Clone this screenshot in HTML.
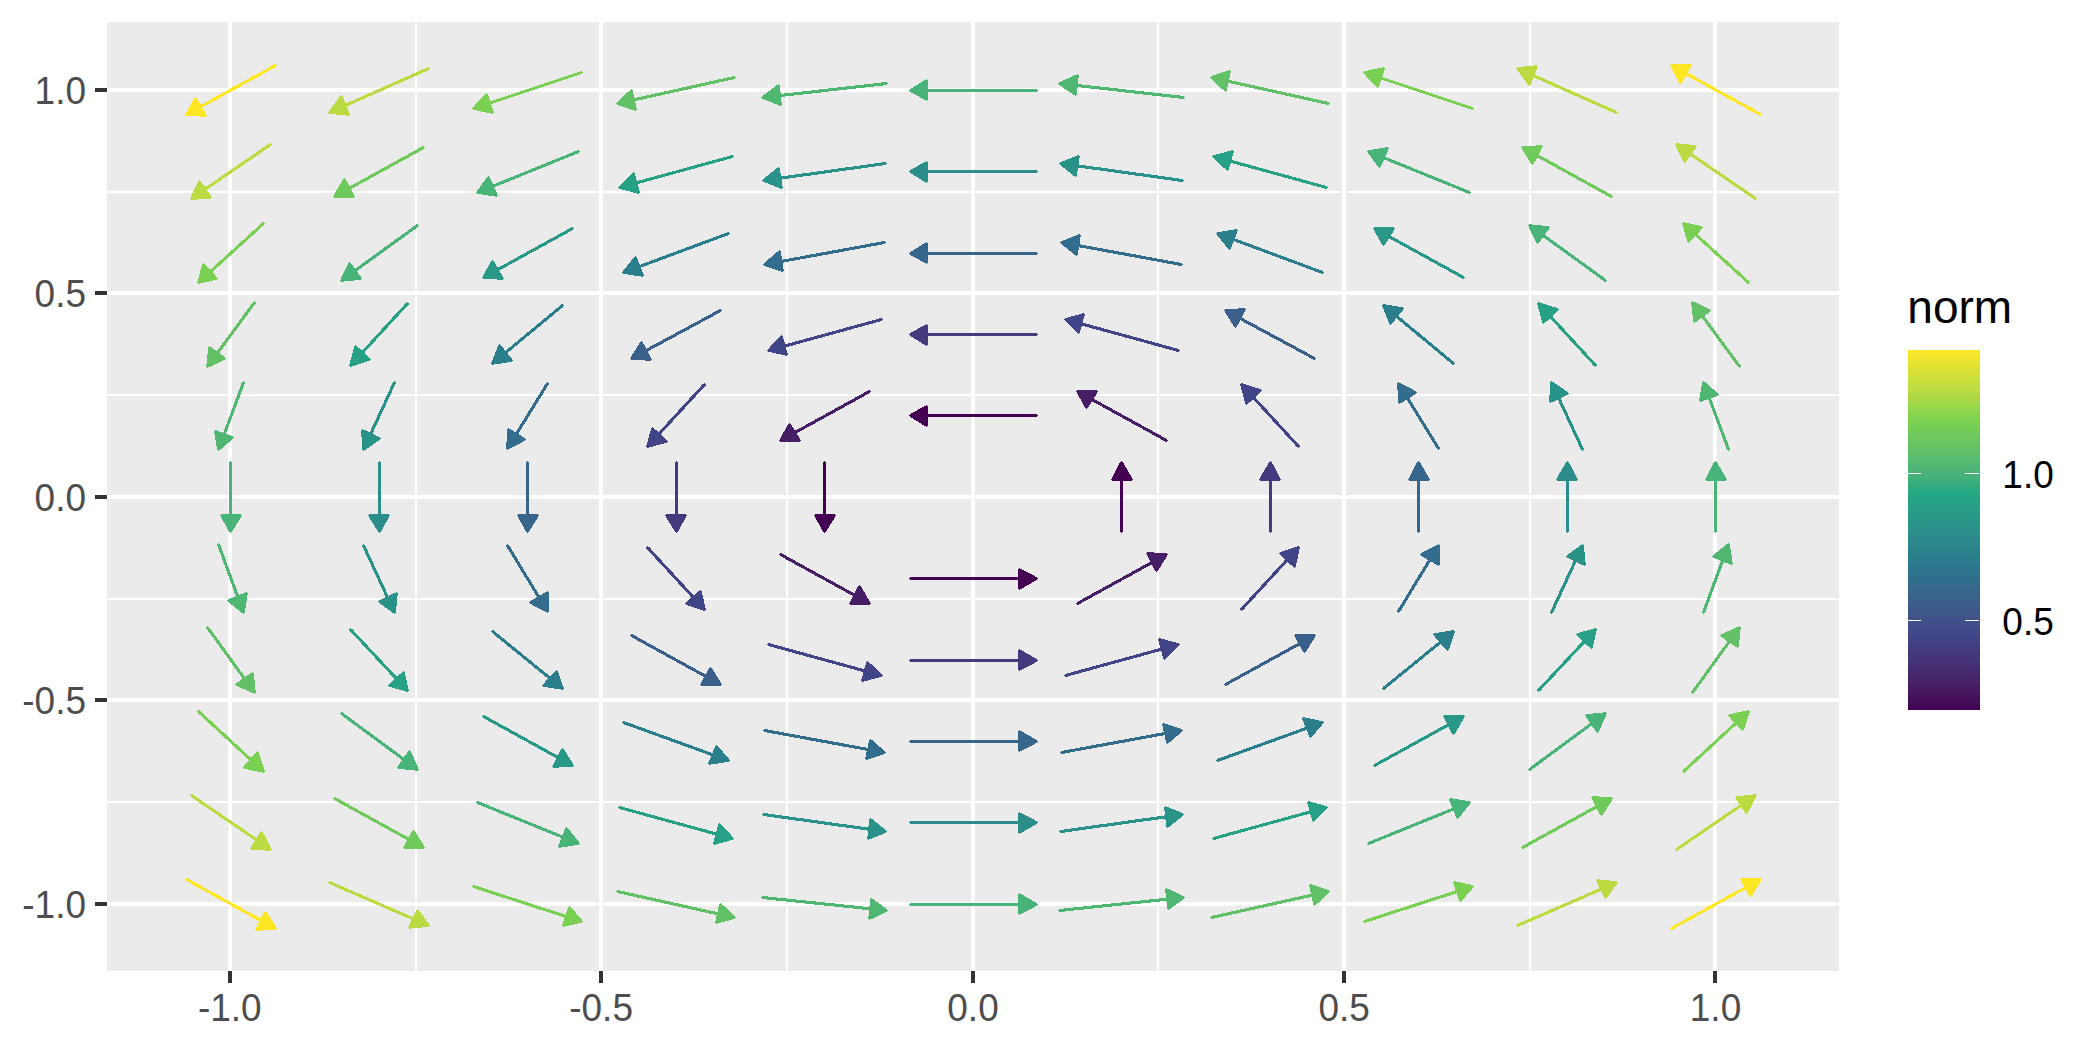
<!DOCTYPE html>
<html><head><meta charset="utf-8"><title>vector field</title>
<style>html,body{margin:0;padding:0;background:#fff}svg{display:block}text{font-family:"Liberation Sans",sans-serif}</style></head>
<body>
<svg width="2100" height="1050" viewBox="0 0 2100 1050">
<rect width="2100" height="1050" fill="#FFFFFF"/>
<rect x="107" y="22" width="1732" height="949" fill="#EBEBEB"/>
<g fill="#FFFFFF" shape-rendering="crispEdges">
<rect x="415" y="22" width="2" height="949"/>
<rect x="107" y="801" width="1732" height="2"/>
<rect x="786" y="22" width="2" height="949"/>
<rect x="107" y="598" width="1732" height="2"/>
<rect x="1157" y="22" width="2" height="949"/>
<rect x="107" y="394" width="1732" height="2"/>
<rect x="1529" y="22" width="2" height="949"/>
<rect x="107" y="191" width="1732" height="2"/>
<rect x="228" y="22" width="4" height="949"/>
<rect x="107" y="902" width="1732" height="4"/>
<rect x="599" y="22" width="4" height="949"/>
<rect x="107" y="698" width="1732" height="4"/>
<rect x="971" y="22" width="4" height="949"/>
<rect x="107" y="495" width="1732" height="4"/>
<rect x="1342" y="22" width="4" height="949"/>
<rect x="107" y="291" width="1732" height="4"/>
<rect x="1713" y="22" width="4" height="949"/>
<rect x="107" y="88" width="1732" height="4"/>
</g>
<g stroke-width="2.6" stroke-linecap="round" stroke-linejoin="round" shape-rendering="crispEdges">
<g stroke="#FDE725" fill="#FDE725"><path d="M186.5 879.5L275.5 928.5" stroke-width="3.1" stroke-linecap="butt"/><path d="M186.5 879.5L275.5 928.5M265.5 912.5L275.5 928.5L256.5 929.5Z"/></g>
<g stroke="#BADC42" fill="#BADC42"><path d="M329.5 882.5L428.5 925.5" stroke-width="3.1" stroke-linecap="butt"/><path d="M329.5 882.5L428.5 925.5M417.5 910.5L428.5 925.5L409.5 927.5Z"/></g>
<g stroke="#79D052" fill="#79D052"><path d="M473.5 886.5L581.5 921.5" stroke-width="3.1" stroke-linecap="butt"/><path d="M473.5 886.5L581.5 921.5M569.5 907.5L581.5 921.5L563.5 925.5Z"/></g>
<g stroke="#62C167" fill="#62C167"><path d="M617.5 891.5L734.5 917.5" stroke-width="3.1" stroke-linecap="butt"/><path d="M617.5 891.5L734.5 917.5M720.5 904.5L734.5 917.5L716.5 922.5Z"/></g>
<g stroke="#50B773" fill="#50B773"><path d="M762.5 897.5L886.5 910.5" stroke-width="3.1" stroke-linecap="butt"/><path d="M762.5 897.5L886.5 910.5M871.5 899.5L886.5 910.5L869.5 918.5Z"/></g>
<g stroke="#48B477" fill="#48B477"><path d="M910.5 904.5L1036.5 904.5" stroke-width="3.1" stroke-linecap="butt"/><path d="M910.5 904.5L1036.5 904.5M1019.5 894.5L1036.5 904.5L1019.5 913.5Z"/></g>
<g stroke="#50B773" fill="#50B773"><path d="M1059.5 910.5L1183.5 897.5" stroke-width="3.1" stroke-linecap="butt"/><path d="M1059.5 910.5L1183.5 897.5M1166.5 889.5L1183.5 897.5L1168.5 908.5Z"/></g>
<g stroke="#62C167" fill="#62C167"><path d="M1211.5 917.5L1328.5 891.5" stroke-width="3.1" stroke-linecap="butt"/><path d="M1211.5 917.5L1328.5 891.5M1310.5 885.5L1328.5 891.5L1314.5 904.5Z"/></g>
<g stroke="#79D052" fill="#79D052"><path d="M1364.5 921.5L1472.5 886.5" stroke-width="3.1" stroke-linecap="butt"/><path d="M1364.5 921.5L1472.5 886.5M1454.5 882.5L1472.5 886.5L1460.5 900.5Z"/></g>
<g stroke="#BADC42" fill="#BADC42"><path d="M1517.5 925.5L1616.5 882.5" stroke-width="3.1" stroke-linecap="butt"/><path d="M1517.5 925.5L1616.5 882.5M1597.5 880.5L1616.5 882.5L1605.5 897.5Z"/></g>
<g stroke="#FDE725" fill="#FDE725"><path d="M1671.5 928.5L1760.5 879.5" stroke-width="3.1" stroke-linecap="butt"/><path d="M1671.5 928.5L1760.5 879.5M1741.5 879.5L1760.5 879.5L1750.5 895.5Z"/></g>
<g stroke="#BADC42" fill="#BADC42"><path d="M191.5 795.5L270.5 849.5" stroke-width="3.1" stroke-linecap="butt"/><path d="M191.5 795.5L270.5 849.5M261.5 832.5L270.5 849.5L251.5 848.5Z"/></g>
<g stroke="#70CA5B" fill="#70CA5B"><path d="M334.5 798.5L423.5 847.5" stroke-width="3.1" stroke-linecap="butt"/><path d="M334.5 798.5L423.5 847.5M413.5 831.5L423.5 847.5L404.5 847.5Z"/></g>
<g stroke="#48B477" fill="#48B477"><path d="M477.5 802.5L578.5 843.5" stroke-width="3.1" stroke-linecap="butt"/><path d="M477.5 802.5L578.5 843.5M566.5 828.5L578.5 843.5L559.5 846.5Z"/></g>
<g stroke="#26A186" fill="#26A186"><path d="M619.5 807.5L732.5 838.5" stroke-width="3.1" stroke-linecap="butt"/><path d="M619.5 807.5L732.5 838.5M719.5 824.5L732.5 838.5L714.5 843.5Z"/></g>
<g stroke="#2A9389" fill="#2A9389"><path d="M763.5 814.5L885.5 831.5" stroke-width="3.1" stroke-linecap="butt"/><path d="M763.5 814.5L885.5 831.5M870.5 819.5L885.5 831.5L868.5 838.5Z"/></g>
<g stroke="#2B8E8A" fill="#2B8E8A"><path d="M910.5 822.5L1036.5 822.5" stroke-width="3.1" stroke-linecap="butt"/><path d="M910.5 822.5L1036.5 822.5M1019.5 813.5L1036.5 822.5L1019.5 832.5Z"/></g>
<g stroke="#2A9389" fill="#2A9389"><path d="M1060.5 831.5L1182.5 814.5" stroke-width="3.1" stroke-linecap="butt"/><path d="M1060.5 831.5L1182.5 814.5M1165.5 807.5L1182.5 814.5L1167.5 826.5Z"/></g>
<g stroke="#26A186" fill="#26A186"><path d="M1213.5 838.5L1326.5 807.5" stroke-width="3.1" stroke-linecap="butt"/><path d="M1213.5 838.5L1326.5 807.5M1308.5 802.5L1326.5 807.5L1313.5 820.5Z"/></g>
<g stroke="#48B477" fill="#48B477"><path d="M1368.5 843.5L1469.5 802.5" stroke-width="3.1" stroke-linecap="butt"/><path d="M1368.5 843.5L1469.5 802.5M1450.5 799.5L1469.5 802.5L1457.5 817.5Z"/></g>
<g stroke="#70CA5B" fill="#70CA5B"><path d="M1522.5 847.5L1611.5 798.5" stroke-width="3.1" stroke-linecap="butt"/><path d="M1522.5 847.5L1611.5 798.5M1592.5 797.5L1611.5 798.5L1601.5 814.5Z"/></g>
<g stroke="#BADC42" fill="#BADC42"><path d="M1676.5 849.5L1755.5 795.5" stroke-width="3.1" stroke-linecap="butt"/><path d="M1676.5 849.5L1755.5 795.5M1736.5 797.5L1755.5 795.5L1746.5 812.5Z"/></g>
<g stroke="#79D052" fill="#79D052"><path d="M198.5 711.5L263.5 771.5" stroke-width="3.1" stroke-linecap="butt"/><path d="M198.5 711.5L263.5 771.5M257.5 752.5L263.5 771.5L244.5 767.5Z"/></g>
<g stroke="#48B477" fill="#48B477"><path d="M341.5 713.5L417.5 769.5" stroke-width="3.1" stroke-linecap="butt"/><path d="M341.5 713.5L417.5 769.5M409.5 751.5L417.5 769.5L398.5 767.5Z"/></g>
<g stroke="#299888" fill="#299888"><path d="M483.5 716.5L572.5 765.5" stroke-width="3.1" stroke-linecap="butt"/><path d="M483.5 716.5L572.5 765.5M562.5 749.5L572.5 765.5L553.5 766.5Z"/></g>
<g stroke="#2B7F8D" fill="#2B7F8D"><path d="M623.5 722.5L728.5 760.5" stroke-width="3.1" stroke-linecap="butt"/><path d="M623.5 722.5L728.5 760.5M716.5 746.5L728.5 760.5L709.5 763.5Z"/></g>
<g stroke="#336D8D" fill="#336D8D"><path d="M764.5 730.5L884.5 752.5" stroke-width="3.1" stroke-linecap="butt"/><path d="M764.5 730.5L884.5 752.5M870.5 740.5L884.5 752.5L866.5 758.5Z"/></g>
<g stroke="#37668C" fill="#37668C"><path d="M910.5 741.5L1036.5 741.5" stroke-width="3.1" stroke-linecap="butt"/><path d="M910.5 741.5L1036.5 741.5M1019.5 731.5L1036.5 741.5L1019.5 750.5Z"/></g>
<g stroke="#336D8D" fill="#336D8D"><path d="M1061.5 752.5L1181.5 730.5" stroke-width="3.1" stroke-linecap="butt"/><path d="M1061.5 752.5L1181.5 730.5M1163.5 724.5L1181.5 730.5L1167.5 742.5Z"/></g>
<g stroke="#2B7F8D" fill="#2B7F8D"><path d="M1217.5 760.5L1322.5 722.5" stroke-width="3.1" stroke-linecap="butt"/><path d="M1217.5 760.5L1322.5 722.5M1303.5 718.5L1322.5 722.5L1310.5 736.5Z"/></g>
<g stroke="#299888" fill="#299888"><path d="M1374.5 765.5L1463.5 716.5" stroke-width="3.1" stroke-linecap="butt"/><path d="M1374.5 765.5L1463.5 716.5M1444.5 716.5L1463.5 716.5L1453.5 733.5Z"/></g>
<g stroke="#48B477" fill="#48B477"><path d="M1529.5 769.5L1605.5 713.5" stroke-width="3.1" stroke-linecap="butt"/><path d="M1529.5 769.5L1605.5 713.5M1586.5 715.5L1605.5 713.5L1597.5 731.5Z"/></g>
<g stroke="#79D052" fill="#79D052"><path d="M1683.5 771.5L1748.5 711.5" stroke-width="3.1" stroke-linecap="butt"/><path d="M1683.5 771.5L1748.5 711.5M1729.5 715.5L1748.5 711.5L1742.5 729.5Z"/></g>
<g stroke="#62C167" fill="#62C167"><path d="M207.5 627.5L254.5 692.5" stroke-width="3.1" stroke-linecap="butt"/><path d="M207.5 627.5L254.5 692.5M252.5 673.5L254.5 692.5L236.5 684.5Z"/></g>
<g stroke="#26A186" fill="#26A186"><path d="M350.5 629.5L407.5 690.5" stroke-width="3.1" stroke-linecap="butt"/><path d="M350.5 629.5L407.5 690.5M403.5 672.5L407.5 690.5L389.5 685.5Z"/></g>
<g stroke="#2B7F8D" fill="#2B7F8D"><path d="M492.5 631.5L562.5 688.5" stroke-width="3.1" stroke-linecap="butt"/><path d="M492.5 631.5L562.5 688.5M556.5 671.5L562.5 688.5L543.5 685.5Z"/></g>
<g stroke="#3B5F8B" fill="#3B5F8B"><path d="M631.5 635.5L720.5 684.5" stroke-width="3.1" stroke-linecap="butt"/><path d="M631.5 635.5L720.5 684.5M710.5 668.5L720.5 684.5L701.5 684.5Z"/></g>
<g stroke="#414587" fill="#414587"><path d="M768.5 644.5L881.5 675.5" stroke-width="3.1" stroke-linecap="butt"/><path d="M768.5 644.5L881.5 675.5M867.5 662.5L881.5 675.5L862.5 680.5Z"/></g>
<g stroke="#443A7E" fill="#443A7E"><path d="M910.5 660.5L1036.5 660.5" stroke-width="3.1" stroke-linecap="butt"/><path d="M910.5 660.5L1036.5 660.5M1019.5 650.5L1036.5 660.5L1019.5 669.5Z"/></g>
<g stroke="#414587" fill="#414587"><path d="M1065.5 675.5L1178.5 644.5" stroke-width="3.1" stroke-linecap="butt"/><path d="M1065.5 675.5L1178.5 644.5M1159.5 639.5L1178.5 644.5L1164.5 658.5Z"/></g>
<g stroke="#3B5F8B" fill="#3B5F8B"><path d="M1225.5 684.5L1314.5 635.5" stroke-width="3.1" stroke-linecap="butt"/><path d="M1225.5 684.5L1314.5 635.5M1295.5 635.5L1314.5 635.5L1304.5 651.5Z"/></g>
<g stroke="#2B7F8D" fill="#2B7F8D"><path d="M1383.5 688.5L1453.5 631.5" stroke-width="3.1" stroke-linecap="butt"/><path d="M1383.5 688.5L1453.5 631.5M1434.5 634.5L1453.5 631.5L1447.5 649.5Z"/></g>
<g stroke="#26A186" fill="#26A186"><path d="M1538.5 690.5L1595.5 629.5" stroke-width="3.1" stroke-linecap="butt"/><path d="M1538.5 690.5L1595.5 629.5M1577.5 634.5L1595.5 629.5L1591.5 647.5Z"/></g>
<g stroke="#62C167" fill="#62C167"><path d="M1692.5 692.5L1739.5 627.5" stroke-width="3.1" stroke-linecap="butt"/><path d="M1692.5 692.5L1739.5 627.5M1721.5 635.5L1739.5 627.5L1737.5 646.5Z"/></g>
<g stroke="#50B773" fill="#50B773"><path d="M218.5 544.5L243.5 612.5" stroke-width="3.1" stroke-linecap="butt"/><path d="M218.5 544.5L243.5 612.5M246.5 593.5L243.5 612.5L228.5 600.5Z"/></g>
<g stroke="#2A9389" fill="#2A9389"><path d="M363.5 545.5L394.5 612.5" stroke-width="3.1" stroke-linecap="butt"/><path d="M363.5 545.5L394.5 612.5M396.5 593.5L394.5 612.5L379.5 601.5Z"/></g>
<g stroke="#336D8D" fill="#336D8D"><path d="M507.5 545.5L547.5 611.5" stroke-width="3.1" stroke-linecap="butt"/><path d="M507.5 545.5L547.5 611.5M547.5 592.5L547.5 611.5L530.5 602.5Z"/></g>
<g stroke="#414587" fill="#414587"><path d="M647.5 547.5L704.5 609.5" stroke-width="3.1" stroke-linecap="butt"/><path d="M647.5 547.5L704.5 609.5M700.5 591.5L704.5 609.5L686.5 603.5Z"/></g>
<g stroke="#461E65" fill="#461E65"><path d="M780.5 554.5L869.5 603.5" stroke-width="3.1" stroke-linecap="butt"/><path d="M780.5 554.5L869.5 603.5M859.5 586.5L869.5 603.5L850.5 603.5Z"/></g>
<g stroke="#440154" fill="#440154"><path d="M910.5 578.5L1036.5 578.5" stroke-width="3.1" stroke-linecap="butt"/><path d="M910.5 578.5L1036.5 578.5M1019.5 569.5L1036.5 578.5L1019.5 588.5Z"/></g>
<g stroke="#461E65" fill="#461E65"><path d="M1077.5 603.5L1166.5 554.5" stroke-width="3.1" stroke-linecap="butt"/><path d="M1077.5 603.5L1166.5 554.5M1147.5 553.5L1166.5 554.5L1156.5 570.5Z"/></g>
<g stroke="#414587" fill="#414587"><path d="M1241.5 609.5L1298.5 547.5" stroke-width="3.1" stroke-linecap="butt"/><path d="M1241.5 609.5L1298.5 547.5M1280.5 553.5L1298.5 547.5L1294.5 566.5Z"/></g>
<g stroke="#336D8D" fill="#336D8D"><path d="M1398.5 611.5L1438.5 545.5" stroke-width="3.1" stroke-linecap="butt"/><path d="M1398.5 611.5L1438.5 545.5M1421.5 554.5L1438.5 545.5L1438.5 564.5Z"/></g>
<g stroke="#2A9389" fill="#2A9389"><path d="M1551.5 612.5L1582.5 545.5" stroke-width="3.1" stroke-linecap="butt"/><path d="M1551.5 612.5L1582.5 545.5M1567.5 556.5L1582.5 545.5L1584.5 564.5Z"/></g>
<g stroke="#50B773" fill="#50B773"><path d="M1703.5 612.5L1728.5 544.5" stroke-width="3.1" stroke-linecap="butt"/><path d="M1703.5 612.5L1728.5 544.5M1713.5 556.5L1728.5 544.5L1731.5 563.5Z"/></g>
<g stroke="#48B477" fill="#48B477"><path d="M230.5 462.5L230.5 531.5" stroke-width="3.1" stroke-linecap="butt"/><path d="M230.5 462.5L230.5 531.5M240.5 515.5L230.5 531.5L221.5 515.5Z"/></g>
<g stroke="#2B8E8A" fill="#2B8E8A"><path d="M379.5 462.5L379.5 531.5" stroke-width="3.1" stroke-linecap="butt"/><path d="M379.5 462.5L379.5 531.5M388.5 515.5L379.5 531.5L369.5 515.5Z"/></g>
<g stroke="#37668C" fill="#37668C"><path d="M527.5 462.5L527.5 531.5" stroke-width="3.1" stroke-linecap="butt"/><path d="M527.5 462.5L527.5 531.5M537.5 515.5L527.5 531.5L518.5 515.5Z"/></g>
<g stroke="#443A7E" fill="#443A7E"><path d="M676.5 462.5L676.5 531.5" stroke-width="3.1" stroke-linecap="butt"/><path d="M676.5 462.5L676.5 531.5M685.5 515.5L676.5 531.5L666.5 515.5Z"/></g>
<g stroke="#440154" fill="#440154"><path d="M824.5 462.5L824.5 531.5" stroke-width="3.1" stroke-linecap="butt"/><path d="M824.5 462.5L824.5 531.5M834.5 515.5L824.5 531.5L815.5 515.5Z"/></g>
<g stroke="#440154" fill="#440154"><path d="M1121.5 531.5L1121.5 462.5" stroke-width="3.1" stroke-linecap="butt"/><path d="M1121.5 531.5L1121.5 462.5M1112.5 479.5L1121.5 462.5L1131.5 479.5Z"/></g>
<g stroke="#443A7E" fill="#443A7E"><path d="M1270.5 531.5L1270.5 462.5" stroke-width="3.1" stroke-linecap="butt"/><path d="M1270.5 531.5L1270.5 462.5M1260.5 479.5L1270.5 462.5L1279.5 479.5Z"/></g>
<g stroke="#37668C" fill="#37668C"><path d="M1418.5 531.5L1418.5 462.5" stroke-width="3.1" stroke-linecap="butt"/><path d="M1418.5 531.5L1418.5 462.5M1409.5 479.5L1418.5 462.5L1428.5 479.5Z"/></g>
<g stroke="#2B8E8A" fill="#2B8E8A"><path d="M1567.5 531.5L1567.5 462.5" stroke-width="3.1" stroke-linecap="butt"/><path d="M1567.5 531.5L1567.5 462.5M1557.5 479.5L1567.5 462.5L1576.5 479.5Z"/></g>
<g stroke="#48B477" fill="#48B477"><path d="M1715.5 531.5L1715.5 462.5" stroke-width="3.1" stroke-linecap="butt"/><path d="M1715.5 531.5L1715.5 462.5M1706.5 479.5L1715.5 462.5L1725.5 479.5Z"/></g>
<g stroke="#50B773" fill="#50B773"><path d="M243.5 382.5L218.5 449.5" stroke-width="3.1" stroke-linecap="butt"/><path d="M243.5 382.5L218.5 449.5M232.5 437.5L218.5 449.5L215.5 431.5Z"/></g>
<g stroke="#2A9389" fill="#2A9389"><path d="M394.5 382.5L363.5 449.5" stroke-width="3.1" stroke-linecap="butt"/><path d="M394.5 382.5L363.5 449.5M379.5 438.5L363.5 449.5L362.5 430.5Z"/></g>
<g stroke="#336D8D" fill="#336D8D"><path d="M547.5 383.5L507.5 448.5" stroke-width="3.1" stroke-linecap="butt"/><path d="M547.5 383.5L507.5 448.5M524.5 439.5L507.5 448.5L508.5 429.5Z"/></g>
<g stroke="#414587" fill="#414587"><path d="M704.5 384.5L647.5 446.5" stroke-width="3.1" stroke-linecap="butt"/><path d="M704.5 384.5L647.5 446.5M666.5 441.5L647.5 446.5L652.5 428.5Z"/></g>
<g stroke="#461E65" fill="#461E65"><path d="M869.5 391.5L780.5 440.5" stroke-width="3.1" stroke-linecap="butt"/><path d="M869.5 391.5L780.5 440.5M799.5 440.5L780.5 440.5L789.5 424.5Z"/></g>
<g stroke="#440154" fill="#440154"><path d="M1036.5 415.5L910.5 415.5" stroke-width="3.1" stroke-linecap="butt"/><path d="M1036.5 415.5L910.5 415.5M926.5 425.5L910.5 415.5L926.5 406.5Z"/></g>
<g stroke="#461E65" fill="#461E65"><path d="M1166.5 440.5L1077.5 391.5" stroke-width="3.1" stroke-linecap="butt"/><path d="M1166.5 440.5L1077.5 391.5M1086.5 407.5L1077.5 391.5L1096.5 391.5Z"/></g>
<g stroke="#414587" fill="#414587"><path d="M1298.5 446.5L1241.5 384.5" stroke-width="3.1" stroke-linecap="butt"/><path d="M1298.5 446.5L1241.5 384.5M1246.5 403.5L1241.5 384.5L1260.5 390.5Z"/></g>
<g stroke="#336D8D" fill="#336D8D"><path d="M1438.5 448.5L1398.5 383.5" stroke-width="3.1" stroke-linecap="butt"/><path d="M1438.5 448.5L1398.5 383.5M1399.5 402.5L1398.5 383.5L1415.5 392.5Z"/></g>
<g stroke="#2A9389" fill="#2A9389"><path d="M1582.5 449.5L1551.5 382.5" stroke-width="3.1" stroke-linecap="butt"/><path d="M1582.5 449.5L1551.5 382.5M1550.5 401.5L1551.5 382.5L1567.5 393.5Z"/></g>
<g stroke="#50B773" fill="#50B773"><path d="M1728.5 449.5L1703.5 382.5" stroke-width="3.1" stroke-linecap="butt"/><path d="M1728.5 449.5L1703.5 382.5M1700.5 400.5L1703.5 382.5L1717.5 394.5Z"/></g>
<g stroke="#62C167" fill="#62C167"><path d="M254.5 302.5L207.5 366.5" stroke-width="3.1" stroke-linecap="butt"/><path d="M254.5 302.5L207.5 366.5M224.5 358.5L207.5 366.5L209.5 347.5Z"/></g>
<g stroke="#26A186" fill="#26A186"><path d="M407.5 303.5L350.5 365.5" stroke-width="3.1" stroke-linecap="butt"/><path d="M407.5 303.5L350.5 365.5M369.5 359.5L350.5 365.5L355.5 346.5Z"/></g>
<g stroke="#2B7F8D" fill="#2B7F8D"><path d="M562.5 305.5L492.5 363.5" stroke-width="3.1" stroke-linecap="butt"/><path d="M562.5 305.5L492.5 363.5M511.5 360.5L492.5 363.5L499.5 345.5Z"/></g>
<g stroke="#3B5F8B" fill="#3B5F8B"><path d="M720.5 310.5L631.5 358.5" stroke-width="3.1" stroke-linecap="butt"/><path d="M720.5 310.5L631.5 358.5M650.5 359.5L631.5 358.5L641.5 342.5Z"/></g>
<g stroke="#414587" fill="#414587"><path d="M881.5 319.5L768.5 350.5" stroke-width="3.1" stroke-linecap="butt"/><path d="M881.5 319.5L768.5 350.5M786.5 354.5L768.5 350.5L781.5 336.5Z"/></g>
<g stroke="#443A7E" fill="#443A7E"><path d="M1036.5 334.5L910.5 334.5" stroke-width="3.1" stroke-linecap="butt"/><path d="M1036.5 334.5L910.5 334.5M926.5 344.5L910.5 334.5L926.5 325.5Z"/></g>
<g stroke="#414587" fill="#414587"><path d="M1178.5 350.5L1065.5 319.5" stroke-width="3.1" stroke-linecap="butt"/><path d="M1178.5 350.5L1065.5 319.5M1078.5 332.5L1065.5 319.5L1083.5 314.5Z"/></g>
<g stroke="#3B5F8B" fill="#3B5F8B"><path d="M1314.5 358.5L1225.5 310.5" stroke-width="3.1" stroke-linecap="butt"/><path d="M1314.5 358.5L1225.5 310.5M1235.5 326.5L1225.5 310.5L1244.5 309.5Z"/></g>
<g stroke="#2B7F8D" fill="#2B7F8D"><path d="M1453.5 363.5L1383.5 305.5" stroke-width="3.1" stroke-linecap="butt"/><path d="M1453.5 363.5L1383.5 305.5M1390.5 323.5L1383.5 305.5L1402.5 308.5Z"/></g>
<g stroke="#26A186" fill="#26A186"><path d="M1595.5 365.5L1538.5 303.5" stroke-width="3.1" stroke-linecap="butt"/><path d="M1595.5 365.5L1538.5 303.5M1543.5 322.5L1538.5 303.5L1557.5 309.5Z"/></g>
<g stroke="#62C167" fill="#62C167"><path d="M1739.5 366.5L1692.5 302.5" stroke-width="3.1" stroke-linecap="butt"/><path d="M1739.5 366.5L1692.5 302.5M1694.5 321.5L1692.5 302.5L1709.5 310.5Z"/></g>
<g stroke="#79D052" fill="#79D052"><path d="M263.5 223.5L198.5 282.5" stroke-width="3.1" stroke-linecap="butt"/><path d="M263.5 223.5L198.5 282.5M216.5 278.5L198.5 282.5L203.5 264.5Z"/></g>
<g stroke="#48B477" fill="#48B477"><path d="M417.5 225.5L341.5 280.5" stroke-width="3.1" stroke-linecap="butt"/><path d="M417.5 225.5L341.5 280.5M360.5 278.5L341.5 280.5L349.5 263.5Z"/></g>
<g stroke="#299888" fill="#299888"><path d="M572.5 228.5L483.5 277.5" stroke-width="3.1" stroke-linecap="butt"/><path d="M572.5 228.5L483.5 277.5M502.5 278.5L483.5 277.5L492.5 261.5Z"/></g>
<g stroke="#2B7F8D" fill="#2B7F8D"><path d="M728.5 233.5L623.5 272.5" stroke-width="3.1" stroke-linecap="butt"/><path d="M728.5 233.5L623.5 272.5M642.5 275.5L623.5 272.5L635.5 257.5Z"/></g>
<g stroke="#336D8D" fill="#336D8D"><path d="M884.5 242.5L764.5 264.5" stroke-width="3.1" stroke-linecap="butt"/><path d="M884.5 242.5L764.5 264.5M782.5 270.5L764.5 264.5L779.5 251.5Z"/></g>
<g stroke="#37668C" fill="#37668C"><path d="M1036.5 253.5L910.5 253.5" stroke-width="3.1" stroke-linecap="butt"/><path d="M1036.5 253.5L910.5 253.5M926.5 262.5L910.5 253.5L926.5 243.5Z"/></g>
<g stroke="#336D8D" fill="#336D8D"><path d="M1181.5 264.5L1061.5 242.5" stroke-width="3.1" stroke-linecap="butt"/><path d="M1181.5 264.5L1061.5 242.5M1076.5 254.5L1061.5 242.5L1079.5 235.5Z"/></g>
<g stroke="#2B7F8D" fill="#2B7F8D"><path d="M1322.5 272.5L1217.5 233.5" stroke-width="3.1" stroke-linecap="butt"/><path d="M1322.5 272.5L1217.5 233.5M1229.5 248.5L1217.5 233.5L1236.5 230.5Z"/></g>
<g stroke="#299888" fill="#299888"><path d="M1463.5 277.5L1374.5 228.5" stroke-width="3.1" stroke-linecap="butt"/><path d="M1463.5 277.5L1374.5 228.5M1383.5 244.5L1374.5 228.5L1393.5 228.5Z"/></g>
<g stroke="#48B477" fill="#48B477"><path d="M1605.5 280.5L1529.5 225.5" stroke-width="3.1" stroke-linecap="butt"/><path d="M1605.5 280.5L1529.5 225.5M1537.5 242.5L1529.5 225.5L1548.5 227.5Z"/></g>
<g stroke="#79D052" fill="#79D052"><path d="M1748.5 282.5L1683.5 223.5" stroke-width="3.1" stroke-linecap="butt"/><path d="M1748.5 282.5L1683.5 223.5M1688.5 241.5L1683.5 223.5L1701.5 227.5Z"/></g>
<g stroke="#BADC42" fill="#BADC42"><path d="M270.5 144.5L191.5 198.5" stroke-width="3.1" stroke-linecap="butt"/><path d="M270.5 144.5L191.5 198.5M210.5 197.5L191.5 198.5L199.5 181.5Z"/></g>
<g stroke="#70CA5B" fill="#70CA5B"><path d="M423.5 147.5L334.5 196.5" stroke-width="3.1" stroke-linecap="butt"/><path d="M423.5 147.5L334.5 196.5M353.5 196.5L334.5 196.5L344.5 179.5Z"/></g>
<g stroke="#48B477" fill="#48B477"><path d="M578.5 151.5L477.5 192.5" stroke-width="3.1" stroke-linecap="butt"/><path d="M578.5 151.5L477.5 192.5M496.5 195.5L477.5 192.5L488.5 177.5Z"/></g>
<g stroke="#26A186" fill="#26A186"><path d="M732.5 156.5L619.5 187.5" stroke-width="3.1" stroke-linecap="butt"/><path d="M732.5 156.5L619.5 187.5M638.5 192.5L619.5 187.5L633.5 173.5Z"/></g>
<g stroke="#2A9389" fill="#2A9389"><path d="M885.5 163.5L763.5 180.5" stroke-width="3.1" stroke-linecap="butt"/><path d="M885.5 163.5L763.5 180.5M781.5 187.5L763.5 180.5L778.5 168.5Z"/></g>
<g stroke="#2B8E8A" fill="#2B8E8A"><path d="M1036.5 171.5L910.5 171.5" stroke-width="3.1" stroke-linecap="butt"/><path d="M1036.5 171.5L910.5 171.5M926.5 181.5L910.5 171.5L926.5 162.5Z"/></g>
<g stroke="#2A9389" fill="#2A9389"><path d="M1182.5 180.5L1060.5 163.5" stroke-width="3.1" stroke-linecap="butt"/><path d="M1182.5 180.5L1060.5 163.5M1075.5 175.5L1060.5 163.5L1078.5 156.5Z"/></g>
<g stroke="#26A186" fill="#26A186"><path d="M1326.5 187.5L1213.5 156.5" stroke-width="3.1" stroke-linecap="butt"/><path d="M1326.5 187.5L1213.5 156.5M1227.5 169.5L1213.5 156.5L1232.5 151.5Z"/></g>
<g stroke="#48B477" fill="#48B477"><path d="M1469.5 192.5L1368.5 151.5" stroke-width="3.1" stroke-linecap="butt"/><path d="M1469.5 192.5L1368.5 151.5M1379.5 166.5L1368.5 151.5L1387.5 148.5Z"/></g>
<g stroke="#70CA5B" fill="#70CA5B"><path d="M1611.5 196.5L1522.5 147.5" stroke-width="3.1" stroke-linecap="butt"/><path d="M1611.5 196.5L1522.5 147.5M1532.5 163.5L1522.5 147.5L1541.5 146.5Z"/></g>
<g stroke="#BADC42" fill="#BADC42"><path d="M1755.5 198.5L1676.5 144.5" stroke-width="3.1" stroke-linecap="butt"/><path d="M1755.5 198.5L1676.5 144.5M1684.5 161.5L1676.5 144.5L1695.5 146.5Z"/></g>
<g stroke="#FDE725" fill="#FDE725"><path d="M275.5 65.5L186.5 114.5" stroke-width="3.1" stroke-linecap="butt"/><path d="M275.5 65.5L186.5 114.5M205.5 115.5L186.5 114.5L195.5 98.5Z"/></g>
<g stroke="#BADC42" fill="#BADC42"><path d="M428.5 68.5L329.5 112.5" stroke-width="3.1" stroke-linecap="butt"/><path d="M428.5 68.5L329.5 112.5M348.5 114.5L329.5 112.5L341.5 96.5Z"/></g>
<g stroke="#79D052" fill="#79D052"><path d="M581.5 72.5L473.5 108.5" stroke-width="3.1" stroke-linecap="butt"/><path d="M581.5 72.5L473.5 108.5M492.5 112.5L473.5 108.5L486.5 94.5Z"/></g>
<g stroke="#62C167" fill="#62C167"><path d="M734.5 77.5L617.5 103.5" stroke-width="3.1" stroke-linecap="butt"/><path d="M734.5 77.5L617.5 103.5M635.5 109.5L617.5 103.5L631.5 90.5Z"/></g>
<g stroke="#50B773" fill="#50B773"><path d="M886.5 83.5L762.5 97.5" stroke-width="3.1" stroke-linecap="butt"/><path d="M886.5 83.5L762.5 97.5M780.5 104.5L762.5 97.5L778.5 85.5Z"/></g>
<g stroke="#48B477" fill="#48B477"><path d="M1036.5 90.5L910.5 90.5" stroke-width="3.1" stroke-linecap="butt"/><path d="M1036.5 90.5L910.5 90.5M926.5 99.5L910.5 90.5L926.5 80.5Z"/></g>
<g stroke="#50B773" fill="#50B773"><path d="M1183.5 97.5L1059.5 83.5" stroke-width="3.1" stroke-linecap="butt"/><path d="M1183.5 97.5L1059.5 83.5M1075.5 94.5L1059.5 83.5L1077.5 75.5Z"/></g>
<g stroke="#62C167" fill="#62C167"><path d="M1328.5 103.5L1211.5 77.5" stroke-width="3.1" stroke-linecap="butt"/><path d="M1328.5 103.5L1211.5 77.5M1225.5 90.5L1211.5 77.5L1229.5 71.5Z"/></g>
<g stroke="#79D052" fill="#79D052"><path d="M1472.5 108.5L1364.5 72.5" stroke-width="3.1" stroke-linecap="butt"/><path d="M1472.5 108.5L1364.5 72.5M1377.5 86.5L1364.5 72.5L1383.5 68.5Z"/></g>
<g stroke="#BADC42" fill="#BADC42"><path d="M1616.5 112.5L1517.5 68.5" stroke-width="3.1" stroke-linecap="butt"/><path d="M1616.5 112.5L1517.5 68.5M1529.5 84.5L1517.5 68.5L1536.5 66.5Z"/></g>
<g stroke="#FDE725" fill="#FDE725"><path d="M1760.5 114.5L1671.5 65.5" stroke-width="3.1" stroke-linecap="butt"/><path d="M1760.5 114.5L1671.5 65.5M1680.5 82.5L1671.5 65.5L1690.5 65.5Z"/></g>
</g>
<g fill="#333333" shape-rendering="crispEdges">
<rect x="228" y="971" width="4" height="12"/>
<rect x="95" y="902" width="12" height="4"/>
<rect x="599" y="971" width="4" height="12"/>
<rect x="95" y="698" width="12" height="4"/>
<rect x="971" y="971" width="4" height="12"/>
<rect x="95" y="495" width="12" height="4"/>
<rect x="1342" y="971" width="4" height="12"/>
<rect x="95" y="291" width="12" height="4"/>
<rect x="1713" y="971" width="4" height="12"/>
<rect x="95" y="88" width="12" height="4"/>
</g>
<g font-size="37" fill="#4D4D4D">
<text transform="translate(86.0 918.0) scale(1 1.027)" text-anchor="end">-1.0</text>
<text transform="translate(229.8 1020.6) scale(1 1.027)" text-anchor="middle">-1.0</text>
<text transform="translate(86.0 714.0) scale(1 1.027)" text-anchor="end">-0.5</text>
<text transform="translate(601.1 1020.6) scale(1 1.027)" text-anchor="middle">-0.5</text>
<text transform="translate(86.0 511.0) scale(1 1.027)" text-anchor="end">0.0</text>
<text transform="translate(973.0 1020.6) scale(1 1.027)" text-anchor="middle">0.0</text>
<text transform="translate(86.0 307.0) scale(1 1.027)" text-anchor="end">0.5</text>
<text transform="translate(1344.2 1020.6) scale(1 1.027)" text-anchor="middle">0.5</text>
<text transform="translate(86.0 104.0) scale(1 1.027)" text-anchor="end">1.0</text>
<text transform="translate(1715.5 1020.6) scale(1 1.027)" text-anchor="middle">1.0</text>
</g>
<defs><linearGradient id="vg" x1="0" y1="0" x2="0" y2="1"><stop offset="0.0000" stop-color="#FDE725"/><stop offset="0.0167" stop-color="#F3E52B"/><stop offset="0.0333" stop-color="#E9E430"/><stop offset="0.0500" stop-color="#DFE234"/><stop offset="0.0667" stop-color="#D5E038"/><stop offset="0.0833" stop-color="#CBDF3C"/><stop offset="0.1000" stop-color="#C0DD40"/><stop offset="0.1167" stop-color="#B6DB43"/><stop offset="0.1333" stop-color="#ABD946"/><stop offset="0.1500" stop-color="#9FD749"/><stop offset="0.1667" stop-color="#93D54C"/><stop offset="0.1833" stop-color="#87D34E"/><stop offset="0.2000" stop-color="#7AD151"/><stop offset="0.2167" stop-color="#75CD56"/><stop offset="0.2333" stop-color="#70CA5B"/><stop offset="0.2500" stop-color="#6BC760"/><stop offset="0.2667" stop-color="#66C364"/><stop offset="0.2833" stop-color="#60C069"/><stop offset="0.3000" stop-color="#5ABC6D"/><stop offset="0.3167" stop-color="#53B971"/><stop offset="0.3333" stop-color="#4CB575"/><stop offset="0.3500" stop-color="#44B279"/><stop offset="0.3667" stop-color="#3BAF7D"/><stop offset="0.3833" stop-color="#30AB80"/><stop offset="0.4000" stop-color="#22A884"/><stop offset="0.4167" stop-color="#25A485"/><stop offset="0.4333" stop-color="#27A086"/><stop offset="0.4500" stop-color="#289C87"/><stop offset="0.4667" stop-color="#299888"/><stop offset="0.4833" stop-color="#2A9489"/><stop offset="0.5000" stop-color="#2B9089"/><stop offset="0.5167" stop-color="#2B8C8A"/><stop offset="0.5333" stop-color="#2C888B"/><stop offset="0.5500" stop-color="#2C848C"/><stop offset="0.5667" stop-color="#2B808D"/><stop offset="0.5833" stop-color="#2B7C8D"/><stop offset="0.6000" stop-color="#2A788E"/><stop offset="0.6167" stop-color="#2E748D"/><stop offset="0.6333" stop-color="#316F8D"/><stop offset="0.6500" stop-color="#346B8C"/><stop offset="0.6667" stop-color="#37678C"/><stop offset="0.6833" stop-color="#39638B"/><stop offset="0.7000" stop-color="#3B5E8B"/><stop offset="0.7167" stop-color="#3C5A8A"/><stop offset="0.7333" stop-color="#3E568A"/><stop offset="0.7500" stop-color="#3F5189"/><stop offset="0.7667" stop-color="#404D88"/><stop offset="0.7833" stop-color="#404888"/><stop offset="0.8000" stop-color="#414487"/><stop offset="0.8167" stop-color="#423F83"/><stop offset="0.8333" stop-color="#433B7E"/><stop offset="0.8500" stop-color="#44367A"/><stop offset="0.8667" stop-color="#453276"/><stop offset="0.8833" stop-color="#452D71"/><stop offset="0.9000" stop-color="#46286D"/><stop offset="0.9167" stop-color="#462369"/><stop offset="0.9333" stop-color="#461E65"/><stop offset="0.9500" stop-color="#451860"/><stop offset="0.9667" stop-color="#45115C"/><stop offset="0.9833" stop-color="#450958"/><stop offset="1.0000" stop-color="#440154"/></linearGradient></defs>
<rect x="1908" y="350" width="72" height="360" fill="url(#vg)"/>
<g fill="#FFFFFF" shape-rendering="crispEdges">
<rect x="1908" y="473" width="13" height="1"/>
<rect x="1965" y="473" width="14" height="1"/>
<rect x="1908" y="620" width="13" height="1"/>
<rect x="1965" y="620" width="14" height="1"/>
</g>
<text x="1907.3" y="323" font-size="46" fill="#000">norm</text>
<g font-size="37" fill="#000">
<text transform="translate(2002.3 487.5) scale(1 1.027)">1.0</text>
<text transform="translate(2002.3 634.6) scale(1 1.027)">0.5</text>
</g>
</svg></body></html>
